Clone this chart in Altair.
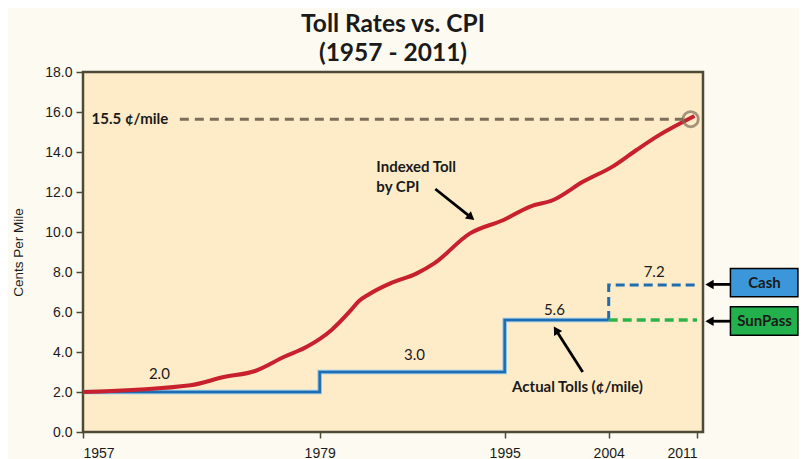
import altair as alt
import pandas as pd

# ---- data ----
cpi_years = [1957, 1967, 1970.1, 1973, 1975.7, 1977.8, 1980, 1981.7, 1982.4, 1983.3,
             1985.1, 1987.4, 1988.9, 1992, 1994.9, 1997.2, 1999.2, 2001.8, 2004.3,
             2006.2, 2007.8, 2010.8]
cpi_toll = [2.0, 2.34, 2.75, 3.05, 3.76, 4.26, 5.09, 6.09, 6.55, 6.9,
            7.43, 7.93, 8.43, 9.93, 10.6, 11.27, 11.6, 12.52, 13.27,
            14.1, 14.77, 15.8]

actual_years = [1957, 1979, 1995, 2004]
actual_toll = [2.0, 3.0, 5.6, 5.6]

cash_years = [2004, 2011]
cash_toll = [5.6, 7.35]

sunpass_years = [2004, 2011]
sunpass_toll = [5.6, 5.6]

x_ticks = [1957, 1979, 1995, 2004, 2011]
y_ticks = [0, 2, 4, 6, 8, 10, 12, 14, 16, 18]

# value labels on the steps
step_label_text = ["2.0", "3.0", "5.6", "7.2"]
step_label_year = [1964.1, 1987.2, 1999.3, 2007.6]
step_label_val = [2.89, 3.84, 6.09, 8.0]

# annotations
indexed_text = ["Indexed Toll", "by CPI"]
indexed_year = [1983.9, 1983.9]
indexed_val = [13.27, 12.25]

actual_text = ["Actual Tolls (¢/mile)"]
actual_lbl_year = [2001.3]
actual_lbl_val = [2.25]

peak_text = ["15.5 ¢/mile"]
peak_lbl_year = [1957.8]
peak_val = 15.64
peak_line_start = 1966.0
peak_circle_year = 2010.5

box_names = ["Cash", "SunPass"]
box_fill = ["#3B97D9", "#22B14C"]
box_x1 = [2013.65, 2013.65]
box_x2 = [2019.0, 2019.0]
box_y1 = [8.18, 6.26]
box_y2 = [6.76, 4.84]
box_text_year = [2016.35, 2016.35]
box_text_val = [7.47, 5.55]

# arrows: start, arrowhead centre, head angle
arrow_x1 = [1989.0, 2001.75, 2013.65, 2013.65]
arrow_y1 = [12.15, 3.0, 7.38, 5.54]
arrow_x2 = [1992.0, 1999.5, 2012.1, 2012.1]
arrow_y2 = [10.77, 5.04, 7.38, 5.54]
arrow_angle = [129, 328, 270, 270]

# ---- frames ----
cpi_df = pd.DataFrame({"year": cpi_years, "toll": cpi_toll})
actual_df = pd.DataFrame({"year": actual_years, "toll": actual_toll})
cash_df = pd.DataFrame({"year": cash_years, "toll": cash_toll})
sun_df = pd.DataFrame({"year": sunpass_years, "toll": sunpass_toll})
steplbl_df = pd.DataFrame({"year": step_label_year, "toll": step_label_val, "t": step_label_text})
ind_df = pd.DataFrame({"year": indexed_year, "toll": indexed_val, "t": indexed_text})
act_df = pd.DataFrame({"year": actual_lbl_year, "toll": actual_lbl_val, "t": actual_text})
peak_df = pd.DataFrame({"year": peak_lbl_year, "toll": [peak_val], "t": peak_text})
peakline_df = pd.DataFrame({"year": [peak_line_start], "year2": [peak_circle_year - 0.6], "toll": [peak_val]})
circle_df = pd.DataFrame({"year": [peak_circle_year], "toll": [peak_val]})
box_df = pd.DataFrame({"name": box_names, "fill": box_fill, "x1": box_x1, "x2": box_x2,
                       "y1": box_y1, "y2": box_y2, "tx": box_text_year, "ty": box_text_val})
arrow_df = pd.DataFrame({"x1": arrow_x1, "y1": arrow_y1, "x2": arrow_x2, "y2": arrow_y2,
                         "angle": arrow_angle})

W, H = 620, 360
xs = alt.Scale(domain=[1957, 1979, 1995, 2004, 2011],
               range=[0, 236.7, 421.7, 525.7, 614], nice=False, zero=False)
ys = alt.Scale(domain=[0, 18], nice=False, zero=False)

TXT = "#1a1a1a"
CAL = "Lato"

xaxis = alt.Axis(values=x_ticks, format="d", title=None, grid=False, domain=False,
                 tickSize=6, tickWidth=1.5, tickColor="#4E4A36", labelPadding=8,
                 labelFont="Liberation Sans", labelFontSize=14, labelColor=TXT)
yaxis = alt.Axis(values=y_ticks, format=".1f", title="Cents Per Mile", grid=False,
                 domain=False, tickSize=7, tickWidth=1.5, tickColor="#4E4A36",
                 labelPadding=4, labelFont="Liberation Sans", labelFontSize=14,
                 labelColor=TXT, titleFont="Liberation Sans", titleFontSize=13.5,
                 titleFontWeight="normal", titleColor=TXT, titlePadding=19)


def X(f):
    return alt.X(f, type="quantitative", scale=xs, axis=xaxis)


def Y(f):
    return alt.Y(f, type="quantitative", scale=ys, axis=yaxis)


red = alt.Chart(cpi_df).mark_line(color="#C8202D", strokeWidth=4, interpolate="monotone").encode(
    x=X("year"), y=Y("toll"))

actual_glow = alt.Chart(actual_df).mark_line(color="#8CC3EA", strokeWidth=4.5,
                                             interpolate="step-after").encode(x=X("year"), y=Y("toll"))
actual_line = alt.Chart(actual_df).mark_line(color="#1F6DB0", strokeWidth=2.5,
                                             interpolate="step-after").encode(x=X("year"), y=Y("toll"))
cash_line = alt.Chart(cash_df).mark_line(color="#1F6DB0", strokeWidth=3, strokeDash=[9, 5],
                                         interpolate="step-before").encode(x=X("year"), y=Y("toll"))
sun_line = alt.Chart(sun_df).mark_line(color="#2DB34A", strokeWidth=3.5, strokeDash=[9, 5]).encode(
    x=X("year"), y=Y("toll"))

peak_line = alt.Chart(peakline_df).mark_rule(color="#7D6E5A", strokeWidth=3, strokeDash=[9, 6]).encode(
    x=X("year"), x2="year2", y=Y("toll"))
circle = alt.Chart(circle_df).mark_point(shape="circle", filled=False, size=230, strokeWidth=2.8,
                                         color="#7D6E5A").encode(x=X("year"), y=Y("toll"))

step_labels = alt.Chart(steplbl_df).mark_text(font=CAL, fontSize=15, color=TXT).encode(
    x=X("year"), y=Y("toll"), text="t")
ind_labels = alt.Chart(ind_df).mark_text(font=CAL, fontSize=15, fontWeight="bold", align="left",
                                         color=TXT).encode(x=X("year"), y=Y("toll"), text="t")
act_labels = alt.Chart(act_df).mark_text(font=CAL, fontSize=15, fontWeight="bold", color=TXT).encode(
    x=X("year"), y=Y("toll"), text="t")
peak_labels = alt.Chart(peak_df).mark_text(font=CAL, fontSize=15, fontWeight="bold", align="left",
                                           color=TXT).encode(x=X("year"), y=Y("toll"), text="t")

arrows = alt.Chart(arrow_df).mark_rule(color="black", strokeWidth=2.8).encode(
    x=X("x1"), y=Y("y1"), x2="x2", y2="y2")
heads = alt.Chart(arrow_df).mark_point(shape="triangle", filled=True, size=90, color="black",
                                       opacity=1).encode(
    x=X("x2"), y=Y("y2"), angle=alt.Angle("angle:Q", scale=None))

boxes = alt.Chart(box_df).mark_rect(stroke="black", strokeWidth=1.5).encode(
    x=X("x1"), x2="x2", y=Y("y1"), y2="y2", fill=alt.Fill("fill:N", scale=None))
box_text = alt.Chart(box_df).mark_text(font=CAL, fontSize=15, fontWeight="bold", color=TXT).encode(
    x=X("tx"), y=Y("ty"), text="name")

chart = alt.layer(
    actual_glow, actual_line, cash_line, sun_line, red,
    peak_line, circle, step_labels, ind_labels, act_labels, peak_labels,
    arrows, heads, boxes, box_text,
).properties(
    width=W, height=H,
    autosize="none",
    padding={"left": 75, "top": 64, "right": 96, "bottom": 27},
    background="#FDFAF1",
    title=alt.Title(["Toll Rates vs. CPI", "(1957 - 2011)"], font=CAL, fontSize=24.5,
                    fontWeight="bold", color=TXT, lineHeight=29, anchor="middle",
                    frame="group", offset=-1),
).configure_view(
    fill="#FEECC9", stroke="#4E4A36", strokeWidth=2.5
)

chart.save("out.html", embed_options={"renderer": "svg", "actions": False})
